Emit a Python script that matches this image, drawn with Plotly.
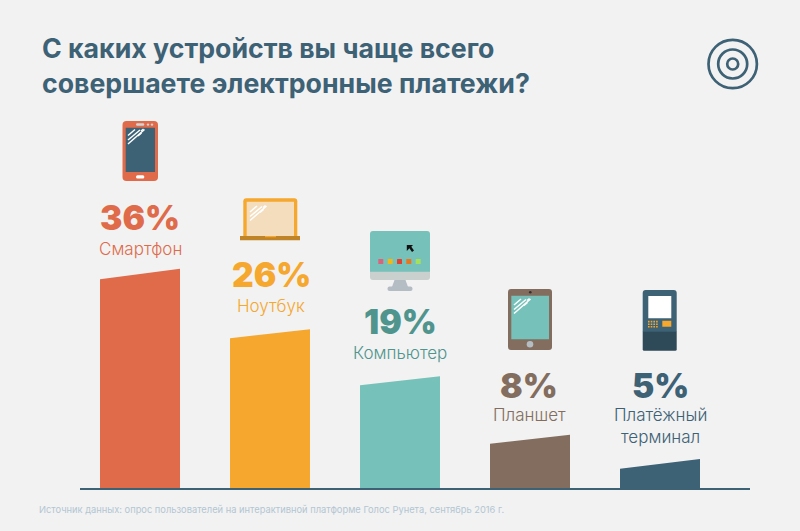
import plotly.graph_objects as go

# ---- data ----
categories = ["Смартфон", "Ноутбук", "Компьютер", "Планшет", "Платёжный<br>терминал"]
shares = [36, 26, 19, 8, 5]
bar_left_top = [34.4, 24.7, 17.0, 7.4, 3.3]
bar_right_top = [36.1, 26.2, 18.5, 8.9, 4.9]
colors = ["#df6b4a", "#f5a72e", "#76c1ba", "#826d5e", "#3d6175"]
pct_colors = ["#df6b4a", "#f5a72e", "#4f958e", "#826d5e", "#3d6175"]
title_lines = ["С каких устройств вы чаще всего", "совершаете электронные платежи?"]
source = "Источник данных: опрос пользователей на интерактивной платформе Голос Рунета, сентябрь 2016 г."

# ---- layout constants (pixels) ----
W, H = 800, 531
BASE = 489
STEP = 130
X0 = 140
UNIT = 6.1
HALF = 40 / STEP
NAVY = "#3d6175"
BG = "#f2f2f2"
TFONT = "Inter"
pct_y = [218, 275, 322, 386, 386]
lab_y = [248.5, 305.5, 352.5, 414.5, 425.5]
pct_x = [140, 271, 400, 529, 660]

fig = go.Figure()
for i, c in enumerate(categories):
    fig.add_trace(go.Scatter(
        x=[i - HALF, i - HALF, i + HALF, i + HALF],
        y=[0, bar_left_top[i], bar_right_top[i], 0],
        mode="lines", fill="toself", fillcolor=colors[i],
        line=dict(width=0, color=colors[i]), hoverinfo="skip",
        showlegend=False, name=c.replace("<br>", " "),
    ))

shapes = []


def R(x0, y0, x1, y1, fill, r=0, rb=None):
    """Rounded rectangle in pixel coordinates."""
    rb = r if rb is None else rb
    p = (f"M {x0+r} {y0} L {x1-r} {y0} Q {x1} {y0} {x1} {y0+r} L {x1} {y1-rb} "
         f"Q {x1} {y1} {x1-rb} {y1} L {x0+rb} {y1} Q {x0} {y1} {x0} {y1-rb} "
         f"L {x0} {y0+r} Q {x0} {y0} {x0+r} {y0} Z")
    shapes.append(dict(type="path", path=p, fillcolor=fill, line_width=0,
                       xref="x2", yref="y2", layer="above"))


def C(cx, cy, r, fill="rgba(0,0,0,0)", stroke=None, w=0):
    shapes.append(dict(type="circle", x0=cx-r, x1=cx+r, y0=cy-r, y1=cy+r, fillcolor=fill,
                       line=dict(color=stroke or fill, width=w), xref="x2", yref="y2", layer="above"))


def L(x0, y0, x1, y1, color="#ffffff", w=1.3):
    shapes.append(dict(type="line", x0=x0, x1=x1, y0=y0, y1=y1, line=dict(color=color, width=w),
                       xref="x2", yref="y2", layer="above"))


def P(path, fill):
    shapes.append(dict(type="path", path=path, fillcolor=fill, line_width=0,
                       xref="x2", yref="y2", layer="above"))


def glare(x, y):
    L(x + 0, y + 14.5, x + 16.5, y + 0, w=1.5)
    L(x + 0, y + 10.5, x + 12, y + 0.5, w=1.5)
    L(x + 0, y + 6, x + 7, y + 0, w=1.5)
    L(x + 10, y + 6.5, x + 13.5, y + 3.5, w=1.5)
    L(x + 13, y + 1.5, x + 15.5, y - 0.5, w=1.5)


# baseline
L(80, BASE, 750, BASE, NAVY, 2)

# target icon
for r in (24.2, 14.5, 5.5):
    C(732.7, 64, r, stroke=NAVY, w=2.7)

# smartphone
R(122.5, 121, 158, 181, colors[0], 4)
R(125.7, 127.7, 155, 172, NAVY)
R(136, 123.3, 144.3, 125.8, "#d4d4d4", 1.2)
C(148, 124.6, 1.2, "#d4d4d4")
C(152, 124.6, 1.2, "#d4d4d4")
R(136, 175.3, 144.3, 178.6, "#ffffff", 1.5)
glare(128, 129.5)

# laptop
R(243.3, 198.3, 297.3, 238, colors[1], 3, 0)
R(246.7, 201.7, 294, 236, "#f3ddbd")
R(240, 236, 300, 240.3, "#c08428")
R(265, 236, 276, 237.3, colors[1])
glare(250, 206)

# monitor
R(370, 231, 430, 272, colors[2], 3, 0)
R(370, 271.7, 430, 280, "#c9d0ce", 0, 3)
P("M 394.5 280 L 405.5 280 L 408 287 L 392 287 Z", "#b4bcc4")
R(387.5, 286.5, 412.5, 291, "#b4bcc4", 2)
for bx, bc in zip((378.3, 387.7, 397, 406.3, 415.7),
                  ("#d9657d", "#f0b914", "#e3402f", "#e8761f", "#a5e05d")):
    R(bx, 259, bx + 5, 264, bc, 0.6)
P("M 406.8 245 L 413 245 L 411.3 246.8 L 414 250.5 L 412 252 L 409.4 248.3 L 406.8 251 Z", "#111111")

# tablet
R(508, 289, 552, 350, colors[3], 3)
R(511.3, 295.7, 549, 339.3, colors[2])
C(530.3, 292.3, 1.3, "#33302e")
C(530, 344.3, 3.3, "#b4bcc4")
glare(514, 299)

# ATM
R(642.7, 290, 676.7, 332, NAVY, 3, 0)
R(642.7, 331.7, 676.7, 350.7, "#2e4a58", 0, 1.5)
R(648.3, 296, 671.3, 318.3, "#ffffff")
for row in range(3):
    for col in range(4):
        R(648 + col * 2.7, 320.8 + row * 2.6, 649.6 + col * 2.7, 322.4 + row * 2.6, colors[1])
R(662.3, 320.7, 671.3, 326.7, colors[1])

ann = []


def T(x, y, text, size, color, weight=400, anchor="center", font=TFONT):
    ann.append(dict(x=x, y=y, xref="x2", yref="y2", text=text, showarrow=False, xanchor=anchor,
                    yanchor="middle", align="center", borderpad=0,
                    font=dict(family=font, size=size, color=color, weight=weight)))


for ln, y in zip(title_lines, (47.5, 82.5)):
    T(40.5, y, ln, 26.7, NAVY, 700, "left")

for i, c in enumerate(categories):
    T(pct_x[i], pct_y[i], f"{shares[i]}%", 33.5, pct_colors[i], 900)
    T(pct_x[i], lab_y[i], c, 17, pct_colors[i], 300)

T(38, 509, source, 9.32, "#b3c6d2", 400, "left")

fig.update_layout(
    width=W, height=H, margin=dict(l=0, r=0, t=0, b=0),
    paper_bgcolor=BG, plot_bgcolor=BG, showlegend=False,
    xaxis=dict(range=[-X0 / STEP, (W - X0) / STEP], visible=False, fixedrange=True),
    yaxis=dict(range=[-(H - BASE) / UNIT, BASE / UNIT], visible=False, fixedrange=True),
    xaxis2=dict(range=[0, W], visible=False, overlaying="x", fixedrange=True),
    yaxis2=dict(range=[H, 0], visible=False, overlaying="y", fixedrange=True),
    shapes=shapes, annotations=ann,
)
# anchor trace so the overlay axes are active
fig.add_trace(go.Scatter(x=[0], y=[0], xaxis="x2", yaxis="y2", mode="markers",
                         marker=dict(opacity=0), hoverinfo="skip", showlegend=False))

fig.write_html("out.html", config=dict(displayModeBar=False),
               post_script="document.body.style.margin='0';document.body.style.overflow='hidden';")
